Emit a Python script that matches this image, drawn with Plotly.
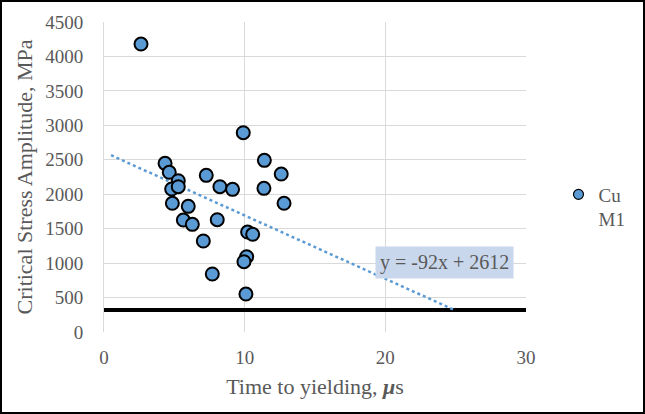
import plotly.graph_objects as go

x_time = [2.63, 4.34, 4.64, 5.28, 4.81, 5.28, 7.27, 8.24, 9.14, 9.9, 11.4, 12.6, 11.37,
          12.8, 4.86, 5.99, 5.64, 6.28, 8.05, 7.06, 10.21, 10.57, 10.14, 9.95, 7.7, 10.09]
y_stress = [4180, 2448, 2318, 2196, 2075, 2109, 2274, 2109, 2071, 2893, 2492, 2293, 2085,
            1868, 1868, 1824, 1625, 1563, 1630, 1321, 1451, 1418, 1093, 1020, 842, 551]
trend_x = [0.5, 25]
trend_slope = -92
trend_intercept = 2612
limit_x = [0, 30]
limit_y = [320, 320]
series_name = "Cu<br>M1"
trend_label = "y = -92x + 2612"

font = "Liberation Serif, Times New Roman, serif"
gray = "#595959"
blue = "#5b9bd5"

fig = go.Figure()
fig.add_trace(go.Scatter(
    x=limit_x, y=limit_y, mode="lines",
    line=dict(color="black", width=4), showlegend=False, hoverinfo="skip"))
fig.add_trace(go.Scatter(
    x=trend_x, y=[trend_slope * v + trend_intercept for v in trend_x], mode="lines",
    line=dict(color=blue, width=2.5, dash="dot"), showlegend=False, hoverinfo="skip"))
fig.add_trace(go.Scatter(
    x=x_time, y=y_stress, mode="markers", name=series_name, showlegend=False,
    marker=dict(size=13, color=blue, line=dict(color="black", width=2))))
# legend entry with the smaller legend symbol
fig.add_trace(go.Scatter(
    x=[None], y=[None], mode="markers", name=series_name,
    marker=dict(size=10, color=blue, line=dict(color="black", width=1.2))))

fig.add_annotation(
    x=24.2, y=1016, xref="x", yref="y", text=trend_label, showarrow=False,
    font=dict(family=font, size=20, color=gray),
    bgcolor="#c9d7ec", borderpad=4)

W0, W1 = 104, 526
H0, H1 = 22, 332
pw, ph = W1 - W0, H1 - H0
fig.add_shape(type="rect", xref="paper", yref="paper",
              x0=(1 - W0) / pw, x1=(644 - W0) / pw,
              y0=(H1 - 413) / ph, y1=(H1 - 1) / ph,
              line=dict(color="black", width=2), fillcolor="rgba(0,0,0,0)", layer="above")

fig.update_layout(
    width=645, height=414,
    margin=dict(l=W0, r=645 - W1, t=H0, b=414 - H1),
    paper_bgcolor="white", plot_bgcolor="white",
    font=dict(family=font, color=gray),
    legend=dict(x=1.077, y=(H1 - 207) / ph, xanchor="left", yanchor="middle",
                valign="top",
                font=dict(family=font, size=19, color=gray), bgcolor="rgba(0,0,0,0)"),
    xaxis=dict(range=[0, 30], dtick=10, tick0=0, showgrid=True, gridcolor="#d9d9d9",
               gridwidth=1, zeroline=False, showline=False, ticks="",
               ticklabelstandoff=12,
               tickfont=dict(size=19, color=gray),
               title=dict(text="Time to yielding, <b><i>μ</i></b>s",
                          font=dict(size=22, color=gray), standoff=11)),
    yaxis=dict(range=[0, 4500], dtick=500, tick0=0, showgrid=True, gridcolor="#d9d9d9",
               gridwidth=1, zeroline=False, showline=True, linecolor="#d9d9d9", ticks="",
               ticklabelstandoff=16,
               tickfont=dict(size=19, color=gray),
               title=dict(text="Critical Stress Amplitude, MPa",
                          font=dict(size=22, color=gray), standoff=6)),
)
fig.write_html("out.html", config={"displayModeBar": False},
               post_script="document.body.style.margin='0';")
